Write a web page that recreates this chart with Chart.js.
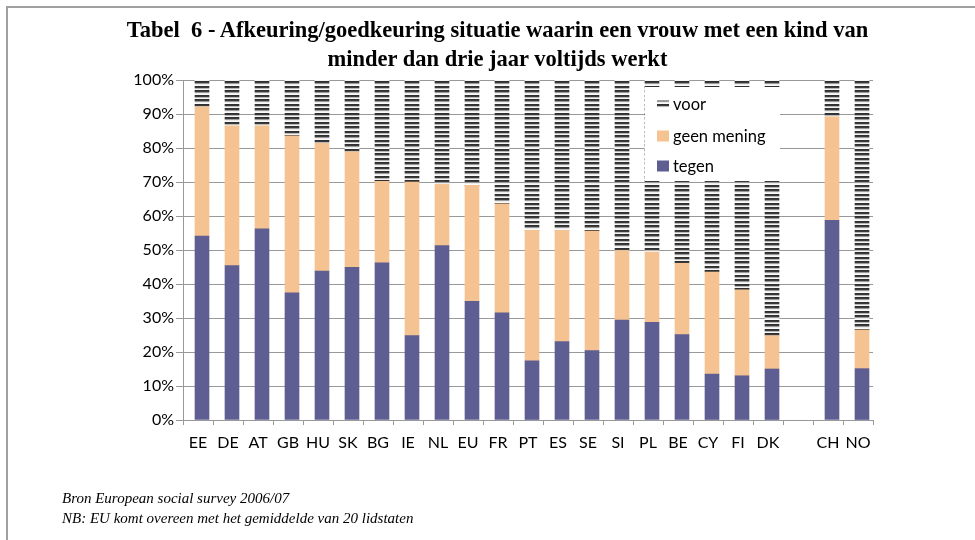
<!DOCTYPE html>
<html>
<head>
<meta charset="utf-8">
<script src="https://cdn.jsdelivr.net/npm/chart.js@4.4.1/dist/chart.umd.min.js"></script>
<style>
  html, body { margin: 0; padding: 0; background: #fff; }
  #wrap { position: relative; width: 975px; height: 540px; overflow: hidden; }
  #frame { position: absolute; left: 6px; top: 6px; width: 990px; height: 560px;
           border-top: 2px solid #a0a0a0; border-left: 2px solid #a0a0a0; }
  #titel { position: absolute; left: 20px; top: 15px; width: 955px; text-align: center;
           font: bold 22.5px "Liberation Serif", "Times New Roman", serif; line-height: 29px; color: #000; }
  #noot { position: absolute; left: 62px; top: 488px;
          font: italic 15px "Liberation Serif", "Times New Roman", serif; line-height: 20px; color: #000; }
  canvas { position: absolute; left: 0; top: 0; }
</style>
</head>
<body>
<div id="wrap">
  <div id="frame"></div>
  <canvas id="grafiek" width="975" height="540"></canvas>
  <div id="titel">Tabel&nbsp; 6 - Afkeuring/goedkeuring situatie waarin een vrouw met een kind van<br>minder dan drie jaar voltijds werkt</div>
  <div id="noot">Bron European social survey 2006/07<br>NB: EU komt overeen met het gemiddelde van 20 lidstaten</div>
</div>
<script>
const landen = ['EE', 'DE', 'AT', 'GB', 'HU', 'SK', 'BG', 'IE', 'NL', 'EU', 'FR', 'PT', 'ES', 'SE', 'SI', 'PL', 'BE', 'CY', 'FI', 'DK', '', 'CH', 'NO'];
const tegen      = [54.1, 45.4, 56.2, 37.4, 43.8, 44.9, 46.2, 24.8, 51.3, 34.9, 31.5, 17.4, 23.1, 20.4, 29.4, 28.7, 25.1, 13.5, 13.0, 15.0, null, 58.7, 15.1];
const geenMening = [38.0, 41.1, 30.3, 46.2, 37.6, 34.0, 24.0, 45.2, 18.0, 34.1, 32.1, 38.4, 32.7, 35.2, 20.4, 20.7, 21.0, 30.0, 25.3,  9.8, null, 30.5, 11.4];
const voor       = [ 7.9, 13.5, 13.5, 16.4, 18.6, 21.1, 29.8, 30.0, 30.7, 31.0, 36.4, 44.2, 44.2, 44.4, 50.2, 50.6, 53.9, 56.5, 61.7, 75.2, null, 10.8, 73.5];
const yTicks = [0, 10, 20, 30, 40, 50, 60, 70, 80, 90, 100];

const kleurTegen = '#5e5e93';
const kleurGeen = '#f5c391';

// gestreept patroon voor "voor"
function maakStrepen() {
  const c = document.createElement('canvas');
  c.width = 1;
  c.height = 9;
  const cx = c.getContext('2d');
  const rijen = ['#2f2f2f', '#3a3a3a', '#9a9a9a', '#ececec', '#fafafa', '#2f2f2f', '#3a3a3a', '#b8b8b8', '#f4f4f4'];
  rijen.forEach((kleur, i) => {
    cx.fillStyle = kleur;
    cx.fillRect(0, i, 1, 1);
  });
  return cx.createPattern(c, 'repeat');
}
const strepen = maakStrepen();

const tekstFont = { family: 'Lato, "Noto Sans", sans-serif', size: 16 };

// staven iets naar rechts, zoals de diepte in het origineel
const diepte = {
  id: 'diepte',
  beforeDatasetsDraw(chart) { chart.ctx.save(); chart.ctx.translate(4, 0); },
  afterDatasetsDraw(chart) { chart.ctx.restore(); }
};

const legendaPlugin = {
  id: 'legenda',
  afterDraw(chart) {
    const ctx = chart.ctx;
    const x = 645, y = 87, b = 135, h = 94;
    ctx.save();
    ctx.fillStyle = '#fff';
    ctx.fillRect(x, y, b, h);
    const items = [
      { tekst: 'voor', kleur: strepen, hoog: 7, cy: 104 },
      { tekst: 'geen mening', kleur: kleurGeen, hoog: 11, cy: 136 },
      { tekst: 'tegen', kleur: kleurTegen, hoog: 11, cy: 166 }
    ];
    ctx.font = '16.5px Lato, "Noto Sans", sans-serif';
    ctx.textBaseline = 'middle';
    items.forEach((it) => {
      ctx.fillStyle = it.kleur;
      ctx.fillRect(657, it.cy - it.hoog / 2, 12, it.hoog);
      ctx.fillStyle = '#000';
      ctx.fillText(it.tekst, 673, it.cy + 1);
    });
    ctx.restore();
  }
};

const grafiek = new Chart(document.getElementById('grafiek'), {
  type: 'bar',
  data: {
    labels: landen,
    datasets: [
      { label: 'tegen', data: tegen, backgroundColor: kleurTegen, barThickness: 14 },
      { label: 'geen mening', data: geenMening, backgroundColor: kleurGeen, barThickness: 14 },
      { label: 'voor', data: voor, backgroundColor: strepen, barThickness: 14 }
    ]
  },
  options: {
    responsive: false,
    animation: false,
    layout: { padding: { top: 80, right: 102, left: 0, bottom: 0 } },
    plugins: {
      legend: { display: false },
      title: { display: false },
      tooltip: { enabled: false }
    },
    scales: {
      x: {
        stacked: true,
        grid: { display: true, drawOnChartArea: false, offset: true, tickLength: 5, color: '#999' },
        border: { color: '#999' },
        ticks: { font: tekstFont, color: '#000', padding: 8, maxRotation: 0, autoSkip: false },
        afterFit(s) { s.height = 120; }
      },
      y: {
        stacked: true,
        min: 0,
        max: 100,
        afterBuildTicks(s) { s.ticks = yTicks.map((v) => ({ value: v })); },
        grid: { color: '#999', tickLength: 7 },
        border: { color: '#999' },
        ticks: { font: tekstFont, color: '#000', padding: 2, callback: (v) => v + '%' },
        afterFit(s) { s.width = 183; }
      }
    }
  },
  plugins: [diepte, legendaPlugin]
});
</script>
</body>
</html>
